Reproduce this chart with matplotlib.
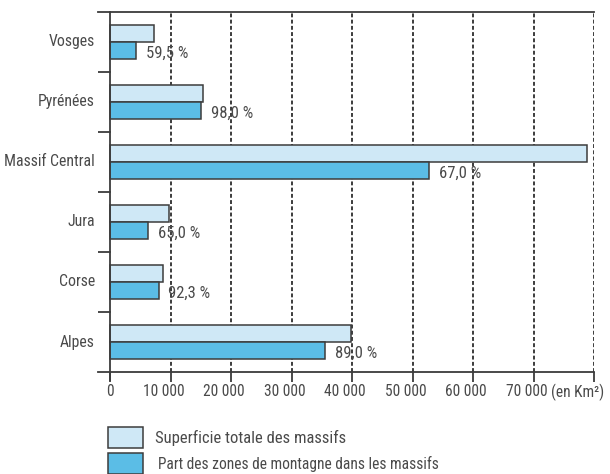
import matplotlib
matplotlib.use("Agg")
import matplotlib.pyplot as plt
from matplotlib.patches import Rectangle
from matplotlib.transforms import blended_transform_factory, offset_copy

# Massifs (top to bottom), total area in km² and share of mountain zones
massifs = ["Vosges", "Pyrénées", "Massif Central", "Jura", "Corse", "Alpes"]
superficie = [7200, 15300, 78800, 9750, 8700, 39900]
part_pct = [59.5, 98.0, 67.0, 65.0, 92.3, 89.0]
pct_labels = ["59,5 %", "98,0 %", "67,0 %", "65,0 %", "92,3 %", "89,0 %"]
xticks = [0, 10000, 20000, 30000, 40000, 50000, 60000, 70000, 80000]
xtick_labels = ["0", "10 000", "20 000", "30 000", "40 000", "50 000",
                "60 000", "70 000", ""]
legend_labels = ["Superficie totale des massifs",
                 "Part des zones de montagne dans les massifs"]

montagne = [s * p / 100 for s, p in zip(superficie, part_pct)]

FONT = ["Roboto Condensed", "DejaVu Sans"]
TXT = "#4a4a4a"
LINE = "#3c3c3c"
LIGHT = "#cfe8f6"
DARK = "#5bbde6"

W, H = 610, 474
fig = plt.figure(figsize=(W / 100, H / 100), dpi=100)
ax = fig.add_axes([98 / W, 1 - 372 / H, (594 - 98) / W, (372 - 12) / H])

ypos = list(range(len(massifs)))
bh = 0.29
ax.barh([y - bh for y in ypos], superficie, height=bh, align="edge",
        color=LIGHT, edgecolor=LINE, linewidth=1.1, zorder=3)
ax.barh(ypos, montagne, height=bh, align="edge",
        color=DARK, edgecolor=LINE, linewidth=1.1, zorder=3)

for y, v, lab in zip(ypos, montagne, pct_labels):
    ax.annotate(lab, (v, y + bh / 2), xytext=(7, -2), textcoords="offset points",
                ha="left", va="center", fontsize=12, family=FONT, color=TXT,
                zorder=4)

ax.set_xlim(-2000, 80000)
ax.set_ylim(len(massifs) - 0.5, -0.5)

# vertical dashed grid
for x in xticks[1:]:
    ax.axvline(x, color=LINE, lw=1.4, ls=(0, (2.0, 1.2)), zorder=1)

for s in ["right", "left"]:
    ax.spines[s].set_visible(False)
for s in ["top", "bottom"]:
    ax.spines[s].set_color(LINE)
    ax.spines[s].set_linewidth(1.3)

# left axis line at x = 0 with category separators
ax.plot([0, 0], [-0.5, len(massifs) - 0.5 + 0.13], color=LINE, lw=1.3,
        clip_on=False, zorder=5)
for b in range(len(massifs) - 1):
    ax.plot([-2000, 0], [b + 0.5, b + 0.5], color=LINE, lw=1.3, zorder=5)

ax.set_yticks([])
ax.set_xticks(xticks)
ax.set_xticklabels([])
ax.tick_params(axis="x", direction="out", length=7, width=1.3, color=LINE)

# tick labels, set slightly left of their ticks (except the zero)
xtr = blended_transform_factory(ax.transData, ax.transAxes)
for x, lab in zip(xticks, xtick_labels):
    dx = 0 if x == 0 else -7
    ax.text(x, 0, lab, transform=offset_copy(xtr, fig, x=dx, y=-20, units="dots"),
            ha="center", va="center", fontsize=11.2, family=FONT, color=TXT)

tr = blended_transform_factory(fig.transFigure, ax.transData)
for y, name in zip(ypos, massifs):
    ax.text(95 / W, y, name, transform=tr, ha="right", va="center",
            fontsize=11.3, family=FONT, color=TXT)

fig.text(551 / W, 1 - 392 / H, "(en Km²)", ha="left", va="center",
         fontsize=11.2, family=FONT, color=TXT)

# legend
for i, (lab, col, fs) in enumerate(zip(legend_labels, [LIGHT, DARK], [12, 11.2])):
    y0 = 427 + i * 26
    fig.patches.append(Rectangle((108 / W, 1 - (y0 + 21) / H), 35 / W, 21 / H,
                                 transform=fig.transFigure, facecolor=col,
                                 edgecolor=LINE, lw=1.1))
    fig.text((155 + 3 * i) / W, 1 - (y0 + 11) / H, lab, ha="left", va="center",
             fontsize=fs, family=FONT, color=TXT)

fig.savefig("out.png", dpi=100)
